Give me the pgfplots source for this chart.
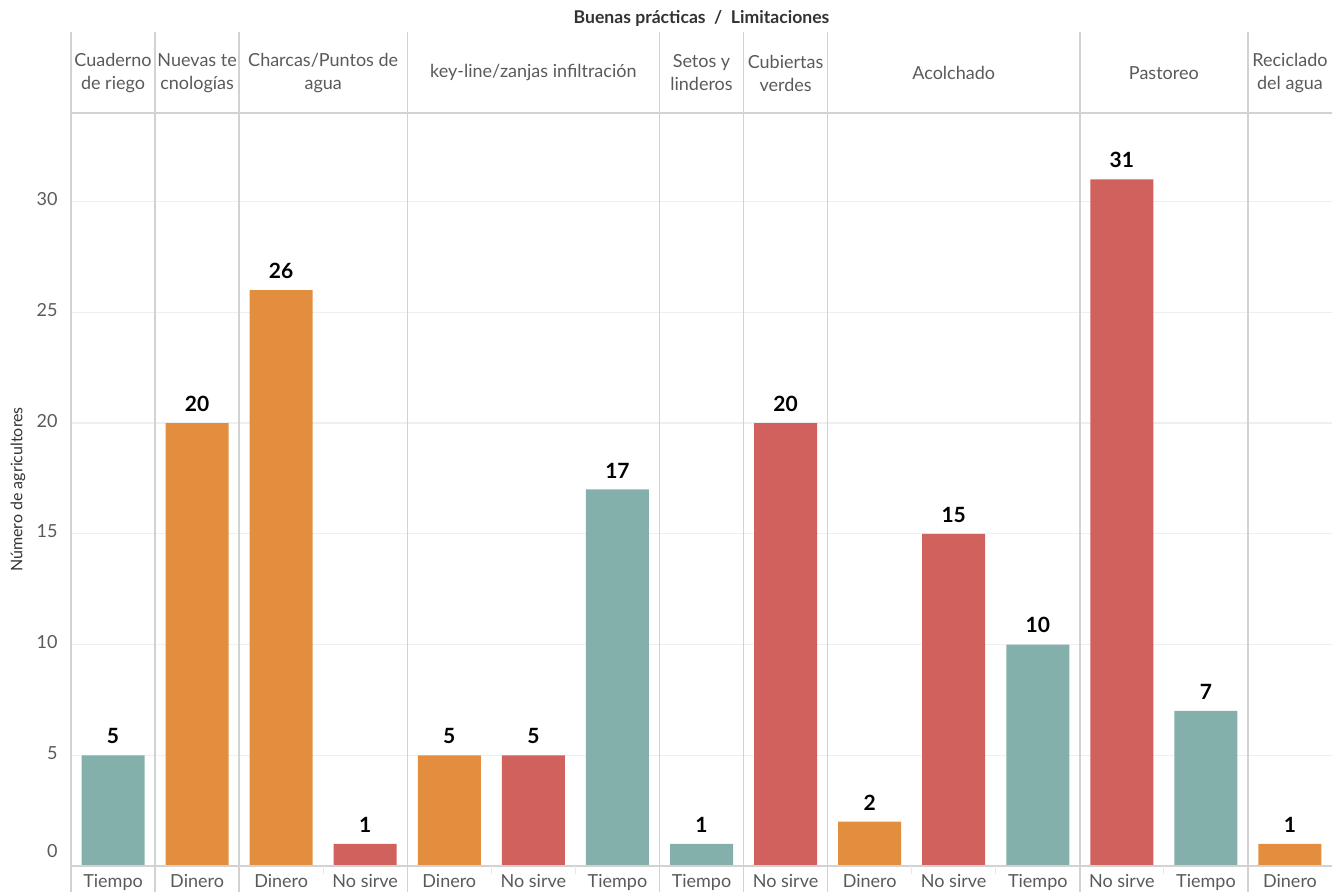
\documentclass[border=0pt]{standalone}
\usepackage{fontspec}
\setmainfont{Lato}
\usepackage{pgfplots}
\pgfplotsset{compat=1.18}

\definecolor{cDin}{HTML}{E38D3F}
\definecolor{cNo}{HTML}{D0615D}
\definecolor{cTie}{HTML}{84B0AC}
\definecolor{lineg}{HTML}{D2D2D2}
\definecolor{faintg}{HTML}{E8E8E8}
\definecolor{gridg}{HTML}{EFEFEF}
\definecolor{txtg}{HTML}{5A5A5A}
\definecolor{titleg}{HTML}{333333}

\begin{document}
\begin{tikzpicture}
\begin{axis}[
  at={(0,0)}, anchor=south west,
  scale only axis, width=630.5pt, height=376.5pt,
  xmin=0, xmax=15, ymin=0, ymax=34,
  clip=false,
  /pgf/number format/assume math mode=true,
  axis line style={draw=none},
  major tick length=0pt,
  ytick={5,10,...,30},
  ymajorgrids, grid style={gridg, line width=0.6pt},
  extra y ticks={0},
  extra y tick style={grid=none, yticklabel style={yshift=6pt}},
  yticklabel style={font=\fontsize{9}{10}\selectfont, text=txtg, inner sep=0pt, xshift=-6.5pt, anchor=east},
  xtick={0.5,1.5,...,14.5},
  xticklabels={Tiempo,Dinero,Dinero,No sirve,Dinero,No sirve,Tiempo,Tiempo,No sirve,Dinero,No sirve,Tiempo,No sirve,Tiempo,Dinero},
  xticklabel style={font=\fontsize{9}{10}\selectfont, text=txtg, inner sep=0pt, anchor=base, yshift=-11pt},
  typeset ticklabels with strut=false,
  ylabel={Número de agricultores},
  ylabel style={at={(axis description cs:-0.042,0.5)}, anchor=center, font=\fontsize{8}{9}\selectfont, text=titleg, inner sep=0pt},
  every node near coord/.append style={font=\bfseries\fontsize{10.5}{12}\selectfont, text=black, inner sep=0pt, anchor=south, yshift=5.5pt},
]
% Tiempo
\addplot[ybar, bar width=31.5pt, bar shift=0pt, fill=cTie, draw=none, nodes near coords]
  coordinates {(0.5,5) (6.5,17) (7.5,1) (11.5,10) (13.5,7)};
% Dinero
\addplot[ybar, bar width=31.5pt, bar shift=0pt, fill=cDin, draw=none, nodes near coords]
  coordinates {(1.5,20) (2.5,26) (4.5,5) (9.5,2) (14.5,1)};
% No sirve
\addplot[ybar, bar width=31.5pt, bar shift=0pt, fill=cNo, draw=none, nodes near coords]
  coordinates {(3.5,1) (5.5,5) (8.5,20) (10.5,15) (12.5,31)};

% frame lines: header bottom, base line
\draw[lineg, line width=0.7pt] (axis cs:0,34) -- (axis cs:15,34);
\draw[lineg, line width=0.7pt] (axis cs:0,0) -- (axis cs:15,0);
% group separators through header, plot and labels
\pgfplotsinvokeforeach{0,1,2,4,7,8,9,12,14}{
  \draw[lineg, line width=0.7pt] ([yshift=-13pt]axis cs:#1,0) -- ([yshift=40.5pt]axis cs:#1,34);
}
% light separators between categories inside a group
\pgfplotsinvokeforeach{3,5,6,10,11,13}{
  \draw[faintg, line width=0.6pt] (axis cs:#1,0) -- ([yshift=-4pt]axis cs:#1,0);
}

% group headers
\begin{scope}[every node/.style={font=\fontsize{9}{11.5}\selectfont, text=txtg, align=center, inner sep=0pt, anchor=center}]
\node at ([yshift=20pt]axis cs:0.5,34) {Cuaderno\\de riego};
\node at ([yshift=20pt]axis cs:1.5,34) {Nuevas te\\cnologías};
\node at ([yshift=20pt]axis cs:3,34) {Charcas/Puntos de\\agua};
\node at ([yshift=20pt]axis cs:5.5,34) {key-line/zanjas infiltración};
\node at ([yshift=20pt]axis cs:7.5,34) {Setos y\\linderos};
\node at ([yshift=20pt]axis cs:8.5,34) {Cubiertas\\verdes};
\node at ([yshift=20pt]axis cs:10.5,34) {Acolchado};
\node at ([yshift=20pt]axis cs:13,34) {Pastoreo};
\node at ([yshift=20pt]axis cs:14.5,34) {Reciclado\\del agua};
\end{scope}

\node[font=\bfseries\fontsize{8.8}{10}\selectfont, text=titleg, inner sep=0pt, anchor=center]
  at ([yshift=47.5pt]axis cs:7.5,34) {Buenas prácticas~~/~~Limitaciones};
\end{axis}
\pgfresetboundingbox
\path[use as bounding box] (-35.5pt,-13pt) rectangle (630.5pt,433pt);
\end{tikzpicture}
\end{document}
